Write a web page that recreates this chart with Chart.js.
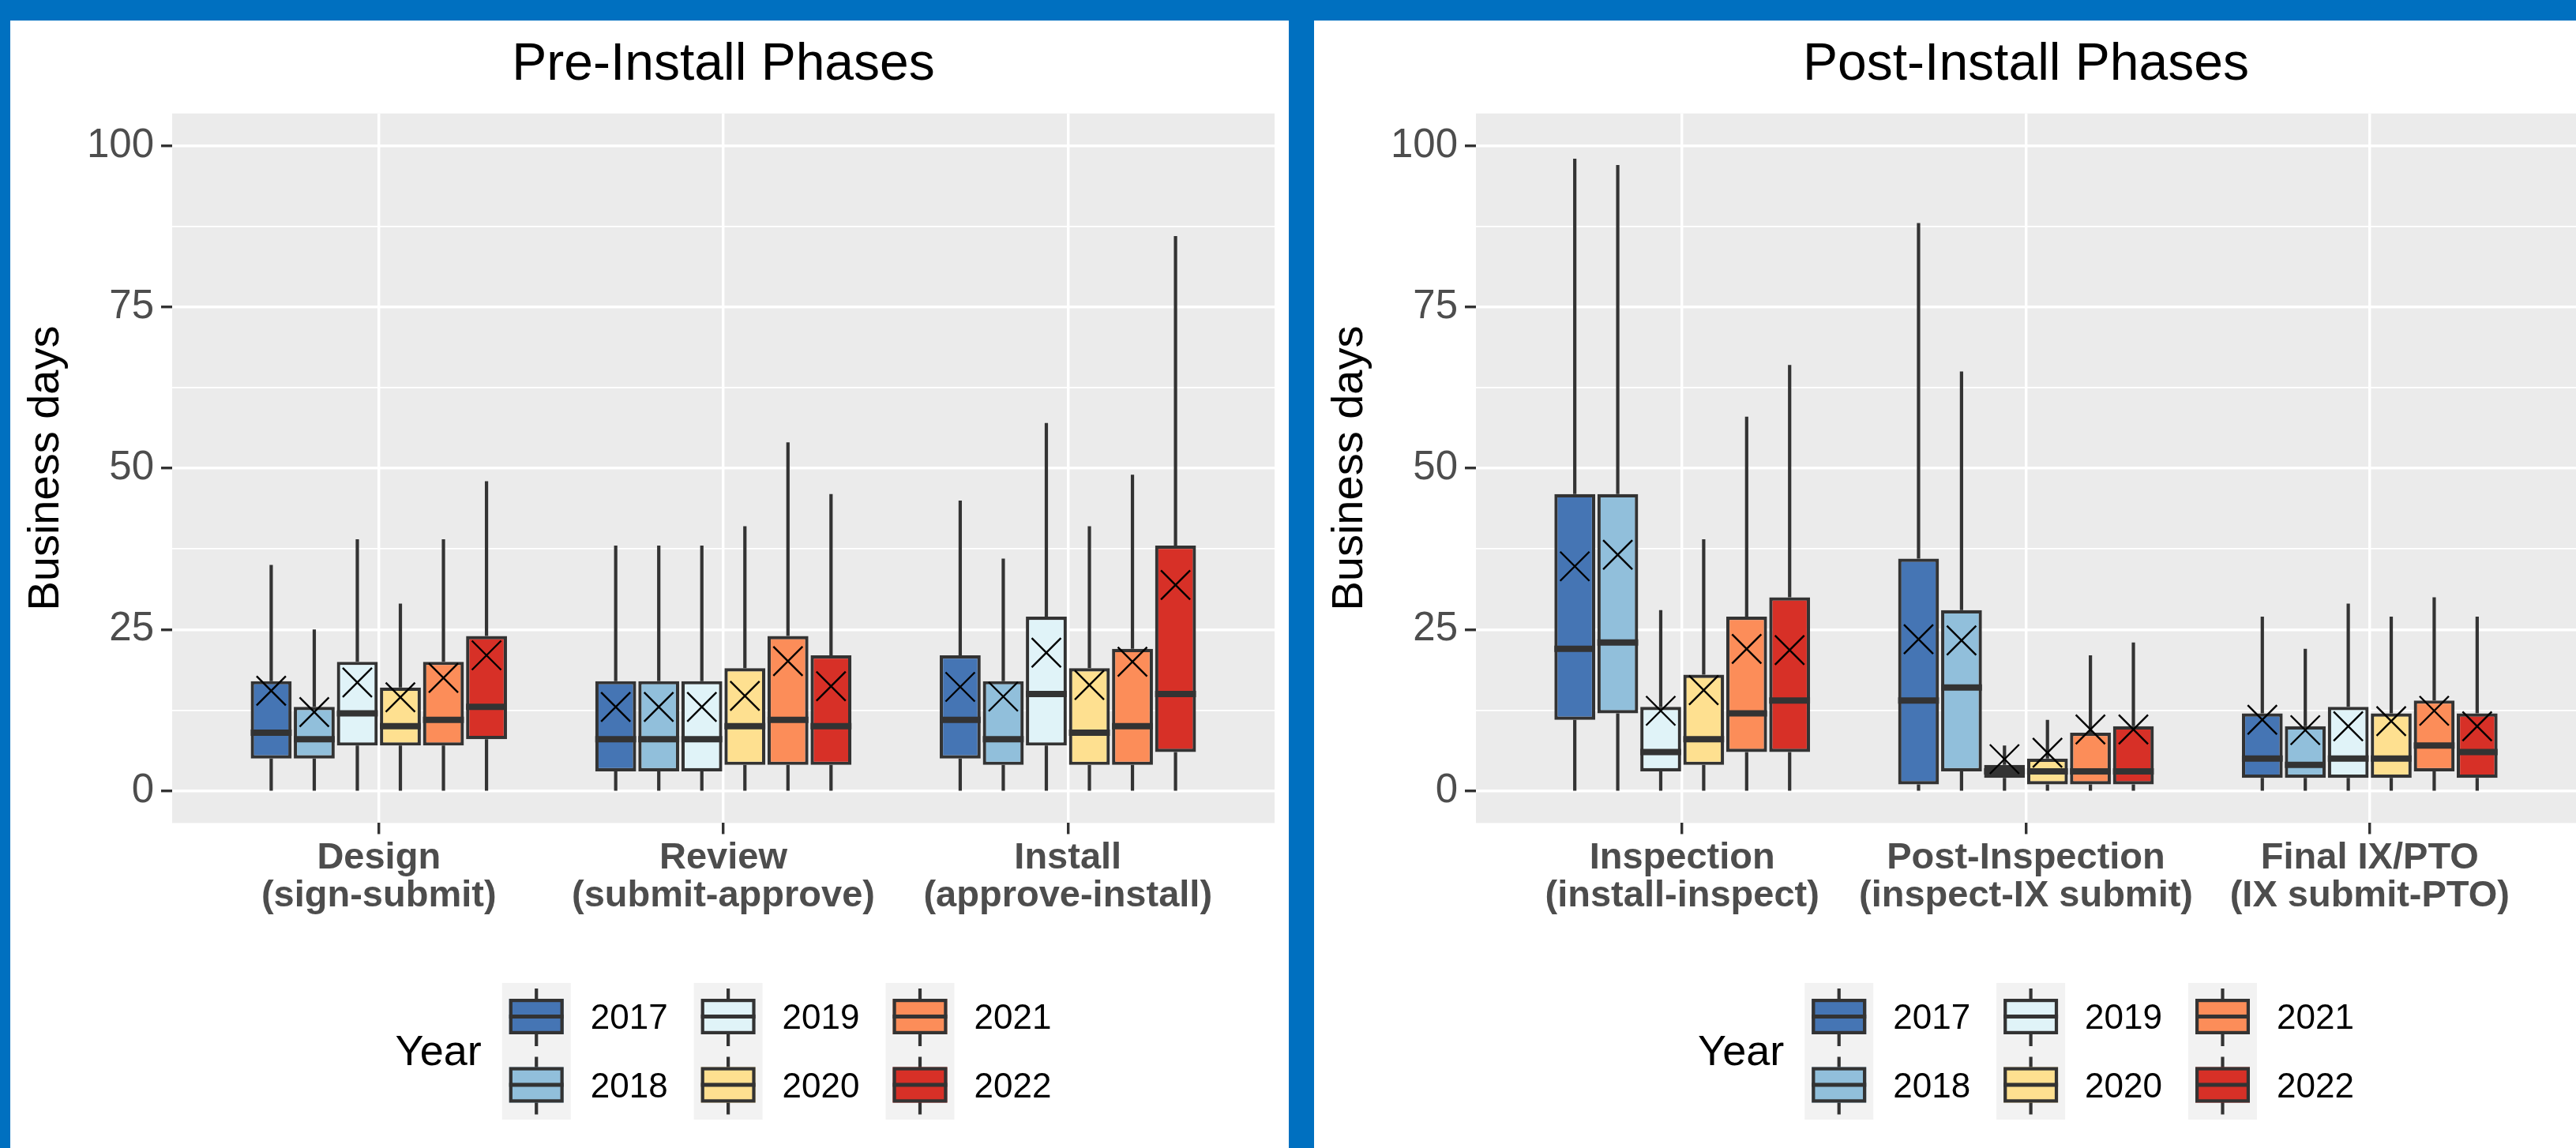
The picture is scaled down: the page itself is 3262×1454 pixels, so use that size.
<!DOCTYPE html>
<html>
<head>
<meta charset="utf-8">
<script src="https://cdn.jsdelivr.net/npm/chart.js@4.4.0/dist/chart.umd.min.js"></script>
<style>
  html, body { margin:0; padding:0; background:#0070C0; width:3262px; height:1454px; overflow:hidden; }
  .panel { position:absolute; top:26px; background:#fff; }
  #pre  { left:13px;   width:1619px; height:1428px; }
  #post { left:1664px; width:1598px; height:1428px; }
</style>
</head>
<body>
<div class="panel" id="pre"><canvas id="preChart" width="1619" height="1428"></canvas></div>
<div class="panel" id="post"><canvas id="postChart" width="1598" height="1428"></canvas></div>
<script>

// ---- data (rows = years, cols = phases) ----
const years      = ['2017', '2018', '2019', '2020', '2021', '2022']
const yearColors = ['#4575B4', '#91BFDB', '#E0F3F8', '#FEE090', '#FC8D59', '#D73027']
const yTicks     = [0, 12.5, 25, 37.5, 50, 62.5, 75, 87.5, 100]

const prePhases  = [['Design', '(sign-submit)'], ['Review', '(submit-approve)'], ['Install', '(approve-install)']]
const postPhases = [['Inspection', '(install-inspect)'], ['Post-Inspection', '(inspect-IX submit)'], ['Final IX/PTO', '(IX submit-PTO)']]

const preMin    = [[0,0,0],[0,0,0],[0,0,0],[0,0,0],[0,0,0],[0,0,0]]
const preQ1     = [[5,3,5],[5,3,4],[7,3,7],[7,4,4],[7,4,4],[8,4,6]]
const preMedian = [[9,8,11],[8,8,8],[12,8,15],[10,10,9],[11,11,10],[13,10,15]]
const preQ3     = [[17,17,21],[13,17,17],[20,17,27],[16,19,19],[20,24,22],[24,21,38]]
const preMax    = [[35,38,45],[25,38,36],[39,38,57],[29,41,41],[39,54,49],[48,46,86]]
const preMean   = [[15.5,13.0,16.1],[12.2,13.0,14.6],[16.8,13.0,21.4],[14.5,14.7,16.4],[17.5,20.1,20.0],[21.0,16.2,31.9]]

const postMin    = [[0,0,0],[0,0,0],[0,0,0],[0,0,0],[0,0,0],[0,0,0]]
const postQ1     = [[11,1,2],[12,3,2],[3,2,2],[4,1,2],[6,1,3],[6,1,2]]
const postMedian = [[22,14,5],[23,16,4],[6,3,5],[8,3,5],[12,3,7],[14,3,6]]
const postQ3     = [[46,36,12],[46,28,10],[13,4,13],[18,5,12],[27,9,14],[30,10,12]]
const postMax    = [[98,88,27],[97,65,22],[28,7,29],[39,11,27],[58,21,30],[66,23,27]]
const postMean   = [[34.8,23.5,11.0],[36.6,23.3,9.4],[12.4,4.9,10.0],[15.6,5.9,10.8],[22.0,9.5,12.4],[21.8,9.5,10.0]]


const FONT = '"Liberation Sans", Arial, sans-serif'
Chart.defaults.font.family = FONT
const DARK = '#333333'
const LW   = 4.2


// whiskers, medians, means, panel background and the Year legend
function boxDecor(st){
      return {
            id: 'boxDecor',
            beforeDraw(chart){
                  const {ctx, chartArea: a} = chart
                  ctx.save()
                  ctx.fillStyle = '#EBEBEB'
                  ctx.fillRect(a.left, a.top, a.width, a.height)
                  ctx.restore()
            },
            beforeDatasetsDraw(chart){
                  const {ctx} = chart, y = chart.scales.y
                  ctx.save()
                  ctx.strokeStyle = DARK
                  ctx.lineWidth = LW
                  chart.data.datasets.forEach((ds, i)=>{
                        chart.getDatasetMeta(i).data.forEach((bar, j)=>{
                              ctx.beginPath()
                              ctx.moveTo(bar.x, y.getPixelForValue(st.max[i][j]))
                              ctx.lineTo(bar.x, y.getPixelForValue(st.q3[i][j]))
                              ctx.moveTo(bar.x, y.getPixelForValue(st.q1[i][j]))
                              ctx.lineTo(bar.x, y.getPixelForValue(st.min[i][j]))
                              ctx.stroke()
                        })
                  })
                  ctx.restore()
            },
            afterDatasetsDraw(chart){
                  const {ctx} = chart, y = chart.scales.y
                  ctx.save()
                  chart.data.datasets.forEach((ds, i)=>{
                        chart.getDatasetMeta(i).data.forEach((bar, j)=>{
                              const w = bar.width
                              const ym = y.getPixelForValue(st.median[i][j])
                              ctx.strokeStyle = DARK
                              ctx.lineWidth = 8
                              ctx.beginPath()
                              ctx.moveTo(bar.x - w/2, ym); ctx.lineTo(bar.x + w/2, ym)
                              ctx.stroke()
                              // mean as an X
                              const yx = y.getPixelForValue(st.mean[i][j]), r = 18.5
                              ctx.strokeStyle = '#000000'
                              ctx.lineWidth = 2.4
                              ctx.beginPath()
                              ctx.moveTo(bar.x - r, yx - r); ctx.lineTo(bar.x + r, yx + r)
                              ctx.moveTo(bar.x - r, yx + r); ctx.lineTo(bar.x + r, yx - r)
                              ctx.stroke()
                        })
                  })
                  ctx.restore()
            },
            afterDraw(chart){ //legend: "Year" + 3 columns x 2 rows
                  const {ctx, chartArea: a} = chart
                  ctx.save()
                  ctx.font = '54px ' + FONT
                  const titleW = ctx.measureText('Year').width
                  ctx.font = '44px ' + FONT
                  const labW = Math.max(...years.map(t => ctx.measureText(t).width))
                  const keyW = 87, keyH = 86.5, gapT = 26, gapL = 25, colGap = 33
                  const cols = Math.ceil(years.length / 2)
                  const colW = keyW + gapL + labW
                  const total = titleW + gapT + cols*colW + (cols-1)*colGap
                  const top = chart.height - 209
                  let x = (a.left + a.right)/2 - total/2

                  ctx.fillStyle = '#000000'
                  ctx.textBaseline = 'middle'
                  ctx.textAlign = 'left'
                  ctx.font = '54px ' + FONT
                  ctx.fillText('Year', x, top + keyH + 3)
                  x += titleW + gapT

                  for(let c=0; c<cols; c++){
                        ctx.fillStyle = '#F2F2F2'
                        ctx.fillRect(x, top, keyW, keyH*2)
                        for(let r=0; r<2; r++){
                              const i = c*2 + r
                              if(i >= years.length){ continue }
                              const rt = top + r*keyH, cx = x + keyW/2
                              ctx.strokeStyle = DARK
                              ctx.lineWidth = LW
                              ctx.beginPath()
                              ctx.moveTo(cx, rt + 7); ctx.lineTo(cx, rt + 80)
                              ctx.stroke()
                              ctx.fillStyle = yearColors[i]
                              ctx.fillRect(x + 9, rt + 20, keyW - 18, 45)
                              ctx.strokeRect(x + 9 + LW/2, rt + 20 + LW/2, keyW - 18 - LW, 45 - LW)
                              ctx.lineWidth = 5
                              ctx.beginPath()
                              ctx.moveTo(x + 9, rt + 42.5); ctx.lineTo(x + keyW - 9, rt + 42.5)
                              ctx.stroke()
                              ctx.fillStyle = '#000000'
                              ctx.font = '44px ' + FONT
                              ctx.fillText(years[i], x + keyW + gapL, rt + keyH/2 + 3)
                        }
                        x += colW + colGap
                  }
                  ctx.restore()
            }
      }
}


function createPanel(id, title, phases, st, padRight){

      const datasets = years.map((yr, i)=>({
            label: yr,
            data: phases.map((p, j)=>({ x: j + 1, y: [st.q1[i][j], st.q3[i][j]] })),
            backgroundColor: yearColors[i],
            borderColor: DARK,
            borderWidth: LW,
            borderSkipped: false,
            categoryPercentage: 0.75,
            barPercentage: 0.95,
      }))

      const setup = {
            type: 'bar',
            data: { datasets: datasets },
            options: {
                  responsive: false,
                  animation: false,
                  devicePixelRatio: 1,
                  layout: { autoPadding: false, padding: { left: 0, right: padRight, top: 0, bottom: 271.6 } },
                  plugins: {
                        legend: { display: false },
                        tooltip: { enabled: false },
                        title: {
                              display: true, text: title, color: '#000000',
                              fullSize: false,   // center over the plot panel, not the canvas
                              font: { size: 66, weight: 'normal', lineHeight: 1.1 },
                              padding: { top: 20.4, bottom: 24.7 }
                        }
                  },
                  scales: {
                        x: {
                              type: 'linear', min: 0.4, max: 3.6, offset: false,
                              afterBuildTicks: s => { s.ticks = phases.map((p, j)=>({ value: j + 1 })) },
                              afterFit: s => { s.height = 140 },
                              ticks: {
                                    callback: v => phases[v - 1],
                                    font: { size: 47, weight: 'bold', lineHeight: 1.02 },
                                    color: '#4D4D4D', padding: 7, autoSkip: false, maxRotation: 0
                              },
                              grid: { offset: false, color: '#FFFFFF', lineWidth: 3.4, tickLength: 14, tickColor: DARK, tickWidth: 3.4 },
                              border: { display: false }
                        },
                        y: {
                              min: -5, max: 105,
                              afterBuildTicks: s => { s.ticks = yTicks.map(v => ({ value: v })) },
                              afterFit: s => { s.width = 205 },
                              ticks: {
                                    callback: v => (v % 25 === 0 ? v : ''),
                                    font: { size: 51 }, color: '#4D4D4D', padding: 9, autoSkip: false
                              },
                              grid: {
                                    offset: false,
                                    color: '#FFFFFF',
                                    lineWidth: c => (c.tick && c.tick.value % 25 === 0 ? 3.4 : 1.8),
                                    tickLength: 14,
                                    tickColor: c => (c.tick && c.tick.value % 25 === 0 ? DARK : 'rgba(0,0,0,0)'),
                                    tickWidth: 3.4
                              },
                              border: { display: false },
                              title: {
                                    display: true, text: 'Business days', color: '#000000',
                                    font: { size: 56 }, padding: { top: 12, bottom: 0 }
                              }
                        }
                  }
            },
            plugins: [ boxDecor(st) ]
      }

      return new Chart(document.getElementById(id), setup)
}


createPanel('preChart', 'Pre-Install Phases', prePhases,
      { min: preMin, q1: preQ1, median: preMedian, q3: preQ3, max: preMax, mean: preMean }, 18)

createPanel('postChart', 'Post-Install Phases', postPhases,
      { min: postMin, q1: postQ1, median: postMedian, q3: postQ3, max: postMax, mean: postMean }, 0)

</script>
</body>
</html>
